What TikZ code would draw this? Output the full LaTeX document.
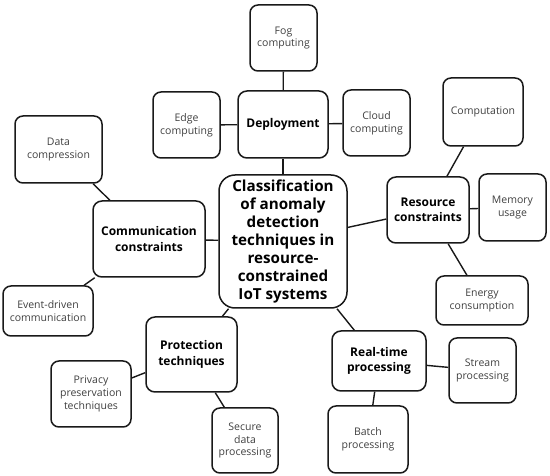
\documentclass[tikz,border=0pt]{standalone}
\usepackage{fontspec}
\setmainfont{Open Sans}
\begin{document}
\begin{tikzpicture}[x=1pt,y=-1pt,
  leaf/.style={draw=black!90, line width=1.5pt, rounded corners=8pt, align=center,
    inner sep=0pt, text=black!75, font=\fontsize{10.5}{12.7}\selectfont},
  mid/.style={draw=black!90, line width=1.5pt, rounded corners=9pt, align=center,
    inner sep=0pt, text=black, font=\fontsize{12}{15.3}\selectfont\bfseries},
  hub/.style={draw=black!90, line width=1.5pt, rounded corners=16pt, align=center,
    inner sep=0pt, text=black, font=\fontsize{15.2}{18}\selectfont\bfseries},
  link/.style={draw=black!90, line width=1.4pt}]
\useasboundingbox (0,0) rectangle (550,476);
\fill[white] (0,0) rectangle (550,476);
% hub
\node[hub, minimum width=128pt, minimum height=133pt] (cen) at (283,241.5)
  {Classification\\of anomaly\\detection\\techniques in\\resource-\\constrained\\IoT systems};
% mid nodes
\node[mid, minimum width=90pt, minimum height=67pt] (dep) at (283,124.5) {Deployment};
\node[mid, minimum width=112pt, minimum height=76pt] (comm) at (149,239) {Communication\\constraints};
\node[mid, minimum width=82pt, minimum height=66pt] (res) at (428,210) {Resource\\constraints};
\node[mid, minimum width=91pt, minimum height=75pt] (prot) at (191.5,354.5) {Protection\\techniques};
\node[mid, minimum width=94pt, minimum height=60pt] (rt) at (379,361) {Real-time\\processing};
% leaves
\node[leaf, minimum width=67pt, minimum height=66pt] (fog) at (283.5,38) {Fog\\computing};
\node[leaf, minimum width=67pt, minimum height=66pt] (edge) at (186.5,125) {Edge\\computing};
\node[leaf, minimum width=67pt, minimum height=66pt] (cloud) at (376.5,123) {Cloud\\computing};
\node[leaf, minimum width=87pt, minimum height=67pt] (data) at (58.5,149.5) {Data\\compression};
\node[leaf, minimum width=90pt, minimum height=50pt] (event) at (48,311) {Event-driven\\communication};
\node[leaf, minimum width=80pt, minimum height=68pt] (comp) at (483,112) {Computation};
\node[leaf, minimum width=67pt, minimum height=67pt] (mem) at (512.5,207.5) {Memory\\usage};
\node[leaf, minimum width=92pt, minimum height=49pt] (energy) at (482,300.5) {Energy\\consumption};
\node[leaf, minimum width=80pt, minimum height=66pt] (priv) at (91,394) {Privacy\\preservation\\techniques};
\node[leaf, minimum width=66pt, minimum height=65pt] (sec) at (245,440.5) {Secure\\data\\processing};
\node[leaf, minimum width=67pt, minimum height=65pt] (stream) at (482.5,370.5) {Stream\\processing};
\node[leaf, minimum width=80pt, minimum height=67pt] (batch) at (368,439.5) {Batch\\processing};
% links
\draw[link] (cen) -- (dep);
\draw[link] (cen) -- (comm);
\draw[link] (cen) -- (res);
\draw[link] (cen) -- (prot);
\draw[link] (cen) -- (rt);
\draw[link] (dep) -- (fog);
\draw[link] (dep) -- (edge);
\draw[link] (dep) -- (cloud);
\draw[link] (comm) -- (data);
\draw[link] (comm) -- (event);
\draw[link] (res) -- (comp);
\draw[link] (res) -- (mem);
\draw[link] (res) -- (energy);
\draw[link] (prot) -- (priv);
\draw[link] (prot) -- (sec);
\draw[link] (rt) -- (stream);
\draw[link] (rt) -- (batch);
\end{tikzpicture}
\end{document}
